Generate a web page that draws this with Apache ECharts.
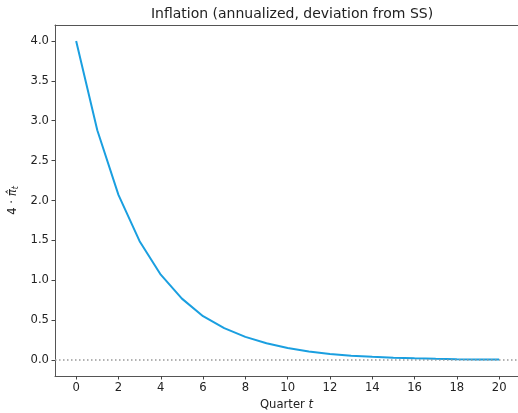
<!DOCTYPE html>
<html><head><meta charset="utf-8">
<script src="https://cdn.jsdelivr.net/npm/echarts@6/dist/echarts.min.js"></script>
<style>html,body{margin:0;padding:0;background:#fff}#c{width:518px;height:413px}</style>
</head><body><div id="c"></div>
<script>
const quarters = [0,1,2,3,4,5,6,7,8,9,10,11,12,13,14,15,16,17,18,19,20];
const inflation = [4.0,2.88,2.07,1.49,1.07,0.77,0.55,0.40,0.29,0.21,0.15,0.107,0.077,0.055,0.040,0.029,0.021,0.015,0.011,0.008,0.006];
const xTicks = [0,2,4,6,8,10,12,14,16,18,20];
const yTicks = [0,0.5,1,1.5,2,2.5,3,3.5,4];
const titleText = 'Inflation (annualized, deviation from SS)';

const FONT = 'DejaVu Sans';
const FS = 11.6;
const chart = echarts.init(document.getElementById('c'), null, {renderer:'canvas'});
chart.setOption({
  animation:false,
  backgroundColor:'#fff',
  title:{text:titleText,left:287,top:2,textAlign:'center',
    textStyle:{fontFamily:FONT,fontSize:14,fontWeight:'normal',color:'#222'}},
  grid:{left:55,right:0,top:25,bottom:37,show:false,containLabel:false,outerBoundsMode:'none'},
  xAxis:[{type:'value',min:-1,max:20.89,
    name:'{a|Quarter }{i|t}',nameLocation:'middle',nameGap:21,
    nameTextStyle:{rich:{a:{fontFamily:FONT,fontSize:FS,color:'#222'},i:{fontFamily:FONT,fontSize:FS,fontStyle:'italic',color:'#222'}}},
    axisLine:{show:true,onZero:false,lineStyle:{color:'#555',width:1}},
    axisTick:{show:true,length:3.5,inside:false,customValues:xTicks,lineStyle:{color:'#444'}},
    axisLabel:{customValues:xTicks,fontFamily:FONT,fontSize:FS,color:'#222',margin:6},
    splitLine:{show:false}},
   {type:'value',position:'top',min:-1,max:20.89,
    axisLine:{show:true,onZero:false,lineStyle:{color:'#555',width:1}},
    axisTick:{show:false},axisLabel:{show:false},splitLine:{show:false}}],
  yAxis:{type:'value',min:-0.2,max:4.2,
    name:'{a|4 · }{i|π̂}{s|t}',nameLocation:'middle',nameGap:35,nameRotate:90,
    nameTextStyle:{rich:{a:{fontFamily:FONT,fontSize:FS,color:'#222'},i:{fontFamily:FONT,fontSize:FS,fontStyle:'italic',color:'#222'},s:{fontFamily:FONT,fontSize:8,fontStyle:'italic',color:'#222',padding:[6,0,0,0]}}},
    axisLine:{show:true,onZero:false,lineStyle:{color:'#555',width:1}},
    axisTick:{show:true,length:3.5,customValues:yTicks,lineStyle:{color:'#444'}},
    axisLabel:{customValues:yTicks,fontFamily:FONT,fontSize:FS,color:'#222',margin:6,
      formatter:v=>v.toFixed(1)},
    splitLine:{show:false}},
  series:[{type:'line',data:quarters.map((q,i)=>[q,inflation[i]]),
    showSymbol:false,lineStyle:{color:'#1a9fe0',width:2},itemStyle:{color:'#1a9fe0'},z:3,
    markLine:{silent:true,symbol:'none',label:{show:false},
      lineStyle:{color:'#999',type:[1.5,2.5],width:1.5},
      data:[{yAxis:0}]}}]
});
</script></body></html>
